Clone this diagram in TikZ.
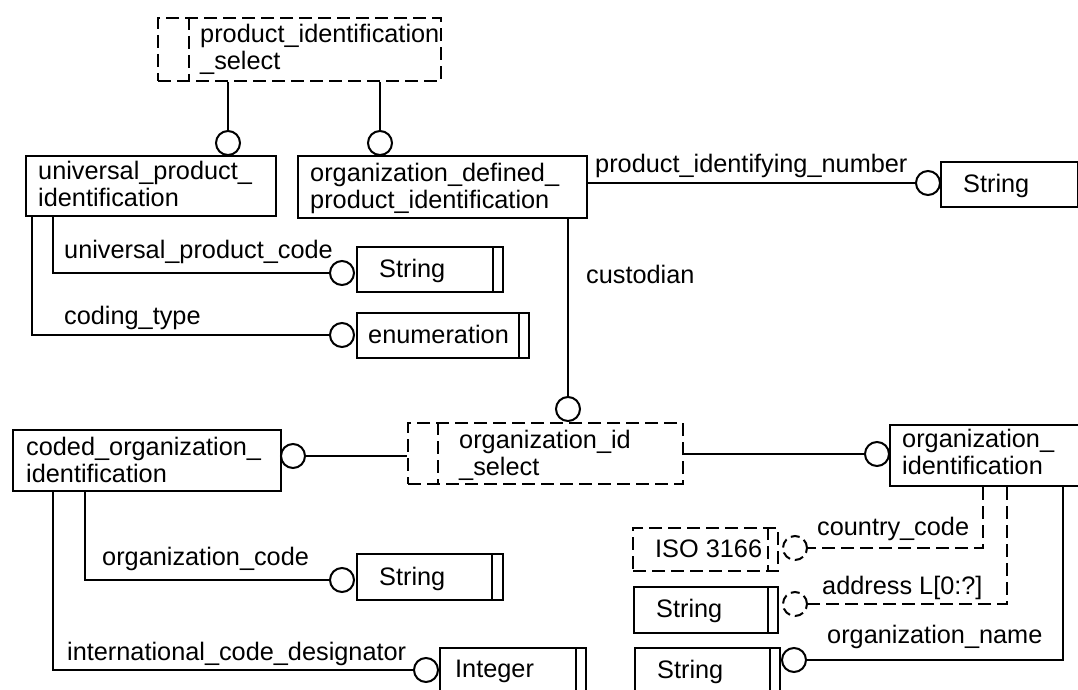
\documentclass[tikz,border=0pt]{standalone}
\usepackage{fontspec}
\setmainfont{Liberation Sans}
\begin{document}
\begin{tikzpicture}[x=1pt,y=-1pt,
 box/.style={draw, line width=2pt, rectangle, inner sep=0pt, anchor=north west},
 dbox/.style={box, dash pattern=on 13pt off 6pt},
 lbl/.style={inner sep=0pt, anchor=base west, font=\fontsize{25.3}{27}\selectfont},
 ml/.style={lbl, text width=320pt, align=left},
 circ/.style={circle, draw, line width=2pt, minimum size=24pt, inner sep=0pt},
 dcirc/.style={circ, dash pattern=on 9pt off 5pt},
 conn/.style={line width=2pt},
 dconn/.style={conn, dash pattern=on 13pt off 6pt}]
\useasboundingbox (0,0) rectangle (1078,690);
\clip (0,0) rectangle (1078,690);

% boxes
\node[dbox, minimum width=283pt, minimum height=63pt] (psel) at (157,17) {};
\node[box, minimum width=250pt, minimum height=60pt] (upi) at (25,155) {};
\node[box, minimum width=289pt, minimum height=62pt] (odp) at (297,155) {};
\node[box, minimum width=146pt, minimum height=45pt] (str1) at (356,246) {};
\node[box, minimum width=172pt, minimum height=45pt] (enum) at (356,312) {};
\node[box, minimum width=147pt, minimum height=45pt] (str2) at (940,161) {};
\node[dbox, minimum width=275pt, minimum height=61pt] (oisel) at (407,422) {};
\node[box, minimum width=268pt, minimum height=61pt] (coded) at (12,429) {};
\node[box, minimum width=206pt, minimum height=61pt] (oi) at (889,424) {};
\node[box, minimum width=146pt, minimum height=46pt] (str3) at (356,553) {};
\node[box, minimum width=146pt, minimum height=46pt] (int) at (439,647) {};
\node[dbox, minimum width=145pt, minimum height=43pt] (iso) at (632,527) {};
\node[box, minimum width=144pt, minimum height=46pt] (str4) at (633,586) {};
\node[box, minimum width=145pt, minimum height=46pt] (str5) at (634,647) {};

% inner lines
\draw[dconn] ([xshift=32pt]psel.north west) -- ([xshift=32pt]psel.south west);
\draw[dconn] ([xshift=31pt]oisel.north west) -- ([xshift=31pt]oisel.south west);
\draw[conn] ([xshift=-11pt]str1.north east) -- ([xshift=-11pt]str1.south east);
\draw[conn] ([xshift=-11pt]enum.north east) -- ([xshift=-11pt]enum.south east);
\draw[conn] ([xshift=-11pt]str2.north east) -- ([xshift=-11pt]str2.south east);
\draw[conn] ([xshift=-12pt]str3.north east) -- ([xshift=-12pt]str3.south east);
\draw[conn] ([xshift=-11pt]int.north east) -- ([xshift=-11pt]int.south east);
\draw[dconn] ([xshift=-11pt]iso.north east) -- ([xshift=-11pt]iso.south east);
\draw[conn] ([xshift=-11pt]str4.north east) -- ([xshift=-11pt]str4.south east);
\draw[conn] ([xshift=-11pt]str5.north east) -- ([xshift=-11pt]str5.south east);

% box texts
\node[ml] (psel-t) at (200,43) {product\_identification\\\_select};
\node[ml] (upi-t) at (38,179) {universal\_product\_\\identification};
\node[ml] (odp-t) at (310,181) {organization\_defined\_\\product\_identification};
\node[lbl] (str1-t) at (379,277) {String};
\node[lbl] (enum-t) at (368,343) {enumeration};
\node[lbl] (str2-t) at (963,192) {String};
\node[ml] (oisel-t) at (459,448) {organization\_id\\\_select};
\node[ml] (coded-t) at (26,455) {coded\_organization\_\\identification};
\node[ml] (oi-t) at (902,447) {organization\_\\identification};
\node[lbl] (str3-t) at (379,585) {String};
\node[lbl] (int-t) at (455,677) {Integer};
\node[lbl] (iso-t) at (655,557) {ISO 3166};
\node[lbl] (str4-t) at (656,617) {String};
\node[lbl] (str5-t) at (657,678) {String};

% circles
\node[circ] (c1) at (228,143) {};
\node[circ] (c2) at (380,143) {};
\node[circ] (c3) at (342,273) {};
\node[circ] (c4) at (342,335) {};
\node[circ] (c5) at (928,183) {};
\node[circ] (c6) at (568,409) {};
\node[circ] (c7) at (293,456) {};
\node[circ] (c8) at (877,454) {};
\node[circ] (c9) at (342,580) {};
\node[circ] (c10) at (426,670) {};
\node[dcirc] (c11) at (795,548) {};
\node[dcirc] (c12) at (795,604) {};
\node[circ] (c13) at (794,660) {};

% connectors
\draw[conn] (psel.south -| c1) -- (c1);
\draw[conn] (psel.south -| c2) -- (c2);
\draw[conn] ([xshift=28pt]upi.south west) |- (c3);
\draw[conn] ([xshift=7pt]upi.south west) |- (c4);
\draw[conn] (odp.east |- c5) -- (c5);
\draw[conn] (odp.south -| c6) -- (c6);
\draw[conn] (c7) -- (c7 -| oisel.west);
\draw[conn] (oisel.east |- c8) -- (c8);
\draw[conn] ([xshift=73pt]coded.south west) |- (c9);
\draw[conn] ([xshift=41pt]coded.south west) |- (c10);
\draw[dconn] ([xshift=94pt]oi.south west) |- (c11);
\draw[dconn] ([xshift=118pt]oi.south west) |- (c12);
\draw[conn] ([xshift=174pt]oi.south west) |- (c13);

% connector labels
\node[lbl] (upc-l) at (64,258) {universal\_product\_code};
\node[lbl] (ct-l) at (64,324) {coding\_type};
\node[lbl] (pin-l) at (595,172) {product\_identifying\_number};
\node[lbl] (cus-l) at (586,283) {custodian};
\node[lbl] (oc-l) at (102,565) {organization\_code};
\node[lbl] (icd-l) at (67,660) {international\_code\_designator};
\node[lbl] (cc-l) at (817,535) {country\_code};
\node[lbl] (addr-l) at (822,594) {address L[0:?]};
\node[lbl] (on-l) at (827,643) {organization\_name};
\end{tikzpicture}
\end{document}
